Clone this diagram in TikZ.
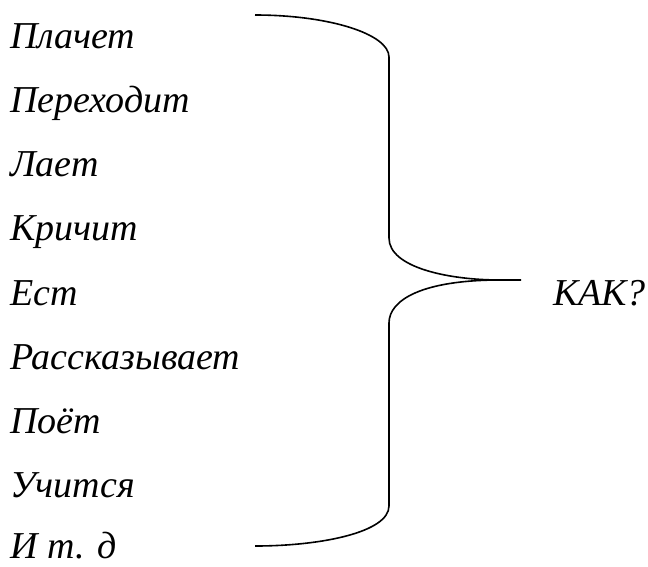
\documentclass[tikz,border=0pt]{standalone}
\usepackage{fontspec}
\setmainfont{Liberation Serif}
\begin{document}
\begin{tikzpicture}[x=1pt,y=-1pt,
  word/.style={anchor=base west,inner sep=0pt,font=\fontsize{38}{40}\selectfont\itshape},
  brace/.style={line width=1.6pt,line join=round}]
\useasboundingbox (0,0) rectangle (648,566);
\node[word] (w1) at (10,48) {Плачет};
\node[word] (w2) at (10,112) {Переходит};
\node[word] (w3) at (10,176) {Лает};
\node[word] (w4) at (10,240) {Кричит};
\node[word] (w5) at (10,305) {Ест};
\node[word] (w6) at (10,369) {Рассказывает};
\node[word] (w7) at (10,433) {Поёт};
\node[word] (w8) at (10,497) {Учится};
\node[word] (w9) at (10,558) {И т. д};
\node[word] (kak) at (553,305) {КАК?};
\draw[brace] (255,15) .. controls (329,15) and (389,34) .. (389,57)
  -- (389,238) .. controls (389,268) and (450,280) .. (500,280) -- (521,280);
\draw[brace] (500,280) .. controls (422,280) and (389,300) .. (389,323)
  -- (389,506) .. controls (389,532) and (322,546) .. (255,546);
\end{tikzpicture}
\end{document}
